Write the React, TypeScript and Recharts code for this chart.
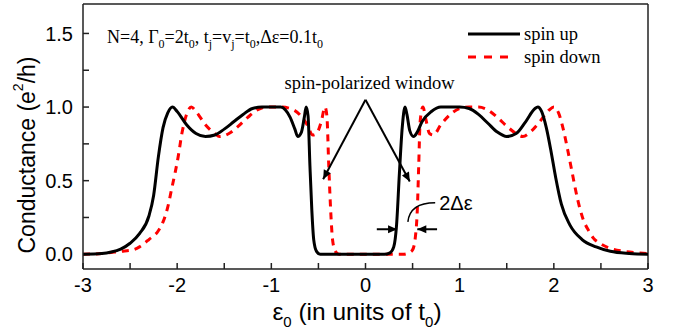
import React from 'react';
import { LineChart, Line, XAxis, YAxis, ReferenceLine } from 'recharts';

// spin up (black solid)
const spinUp = [
  { x: -3, y: 0 }, { x: -2.8, y: 0.005 }, { x: -2.7, y: 0.015 }, { x: -2.6, y: 0.035 },
  { x: -2.5, y: 0.075 }, { x: -2.4, y: 0.14 }, { x: -2.3, y: 0.26 }, { x: -2.25, y: 0.4 },
  { x: -2.2, y: 0.66 }, { x: -2.15, y: 0.86 }, { x: -2.1, y: 0.96 }, { x: -2.05, y: 1.0 },
  { x: -2.0, y: 0.97 }, { x: -1.9, y: 0.88 }, { x: -1.8, y: 0.82 }, { x: -1.7, y: 0.8 },
  { x: -1.6, y: 0.81 }, { x: -1.5, y: 0.85 }, { x: -1.4, y: 0.9 }, { x: -1.3, y: 0.95 },
  { x: -1.2, y: 0.99 }, { x: -1.1, y: 1.0 }, { x: -1.0, y: 1.0 }, { x: -0.9, y: 1.0 },
  { x: -0.85, y: 0.98 }, { x: -0.8, y: 0.93 }, { x: -0.75, y: 0.85 }, { x: -0.72, y: 0.8 },
  { x: -0.68, y: 0.83 }, { x: -0.65, y: 0.93 }, { x: -0.63, y: 1.0 }, { x: -0.61, y: 0.94 },
  { x: -0.59, y: 0.6 }, { x: -0.57, y: 0.3 }, { x: -0.55, y: 0.1 }, { x: -0.52, y: 0.02 },
  { x: -0.48, y: 0 }, { x: 0.2, y: 0 }, { x: 0.26, y: 0.01 }, { x: 0.3, y: 0.05 },
  { x: 0.33, y: 0.2 }, { x: 0.36, y: 0.55 }, { x: 0.39, y: 0.86 }, { x: 0.42, y: 1.0 },
  { x: 0.44, y: 0.95 }, { x: 0.47, y: 0.84 }, { x: 0.51, y: 0.8 }, { x: 0.55, y: 0.83 },
  { x: 0.6, y: 0.9 }, { x: 0.7, y: 0.97 }, { x: 0.8, y: 1.0 }, { x: 0.9, y: 1.0 },
  { x: 1.0, y: 1.0 }, { x: 1.1, y: 0.99 }, { x: 1.2, y: 0.95 }, { x: 1.3, y: 0.89 },
  { x: 1.4, y: 0.83 }, { x: 1.5, y: 0.8 }, { x: 1.6, y: 0.82 }, { x: 1.7, y: 0.9 },
  { x: 1.8, y: 0.99 }, { x: 1.83, y: 1.0 }, { x: 1.87, y: 0.97 }, { x: 1.92, y: 0.86 },
  { x: 1.97, y: 0.7 }, { x: 2.02, y: 0.52 }, { x: 2.08, y: 0.34 }, { x: 2.17, y: 0.2 },
  { x: 2.3, y: 0.1 }, { x: 2.45, y: 0.05 }, { x: 2.6, y: 0.02 }, { x: 2.8, y: 0.005 },
  { x: 3, y: 0 },
];

// spin down (red dashed)
const spinDown = [
  { x: -3, y: 0 }, { x: -2.8, y: 0.005 }, { x: -2.6, y: 0.02 }, { x: -2.47, y: 0.03 },
  { x: -2.4, y: 0.05 }, { x: -2.3, y: 0.1 }, { x: -2.2, y: 0.16 }, { x: -2.15, y: 0.22 },
  { x: -2.1, y: 0.32 }, { x: -2.06, y: 0.44 }, { x: -2.02, y: 0.56 }, { x: -1.99, y: 0.66 },
  { x: -1.95, y: 0.82 }, { x: -1.9, y: 0.95 }, { x: -1.85, y: 1.0 }, { x: -1.8, y: 0.97 },
  { x: -1.7, y: 0.88 }, { x: -1.6, y: 0.82 }, { x: -1.55, y: 0.8 }, { x: -1.45, y: 0.82 },
  { x: -1.35, y: 0.87 }, { x: -1.25, y: 0.93 }, { x: -1.15, y: 0.98 }, { x: -1.05, y: 1.0 },
  { x: -0.9, y: 1.0 }, { x: -0.8, y: 0.99 }, { x: -0.7, y: 0.95 }, { x: -0.62, y: 0.88 },
  { x: -0.56, y: 0.81 }, { x: -0.52, y: 0.82 }, { x: -0.47, y: 0.9 }, { x: -0.43, y: 1.0 },
  { x: -0.41, y: 0.94 }, { x: -0.39, y: 0.6 }, { x: -0.37, y: 0.3 }, { x: -0.35, y: 0.1 },
  { x: -0.32, y: 0.02 }, { x: -0.28, y: 0 }, { x: 0.4, y: 0 }, { x: 0.46, y: 0.01 },
  { x: 0.5, y: 0.03 }, { x: 0.53, y: 0.12 }, { x: 0.55, y: 0.3 }, { x: 0.565, y: 0.6 },
  { x: 0.58, y: 0.9 }, { x: 0.61, y: 1.0 }, { x: 0.64, y: 0.92 }, { x: 0.68, y: 0.82 },
  { x: 0.72, y: 0.81 }, { x: 0.8, y: 0.88 }, { x: 0.9, y: 0.95 }, { x: 1.0, y: 0.99 },
  { x: 1.1, y: 1.0 }, { x: 1.2, y: 1.0 }, { x: 1.3, y: 0.98 }, { x: 1.4, y: 0.93 },
  { x: 1.5, y: 0.87 }, { x: 1.6, y: 0.82 }, { x: 1.67, y: 0.8 }, { x: 1.75, y: 0.83 },
  { x: 1.85, y: 0.9 }, { x: 1.95, y: 0.98 }, { x: 2.0, y: 1.0 }, { x: 2.05, y: 0.96 },
  { x: 2.1, y: 0.85 }, { x: 2.15, y: 0.7 }, { x: 2.19, y: 0.57 }, { x: 2.25, y: 0.38 },
  { x: 2.31, y: 0.24 }, { x: 2.37, y: 0.16 }, { x: 2.42, y: 0.11 }, { x: 2.5, y: 0.07 },
  { x: 2.6, y: 0.04 }, { x: 2.75, y: 0.02 }, { x: 2.9, y: 0.01 }, { x: 3, y: 0.005 },
];

const xTicks = [-3, -2.5, -2, -1.5, -1, -0.5, 0, 0.5, 1, 1.5, 2, 2.5, 3];
const yTicks = [0, 0.25, 0.5, 0.75, 1, 1.25, 1.5];
const X_DOMAIN = [-3, 3];
const Y_DOMAIN = [-0.1, 1.7];

// annotation anchors (data units)
const apex = { x: 0, y: 1.05 };
const windowLeft = { x: -0.45, y: 0.51 };
const windowRight = { x: 0.47, y: 0.495 };
const gapArrowY = 0.17;

const serif = '"Liberation Serif", "Times New Roman", serif';
const sans = '"Liberation Sans", Arial, sans-serif';
const TICK = 6;

const arrowHead = (x1: number, y1: number, x2: number, y2: number, len = 9, half = 4) => {
  const a = Math.atan2(y2 - y1, x2 - x1);
  const bx = x2 - len * Math.cos(a);
  const by = y2 - len * Math.sin(a);
  const px = -Math.sin(a) * half;
  const py = Math.cos(a) * half;
  return `${x2},${y2} ${bx + px},${by + py} ${bx - px},${by - py}`;
};

const ArrowLine = (props: any) => {
  const { x1, y1, x2, y2, title } = props;
  if (x1 == null) return null;
  return (
    <g>
      <line x1={x1} y1={y1} x2={x2} y2={y2} stroke="#000" strokeWidth={2} />
      <polygon points={arrowHead(x1, y1, x2, y2)} fill="#000" />
      {title && (
        <text x={x1 + 4} y={y1 - 11} textAnchor="middle" fontFamily={serif} fontSize={18.5} fill="#000">
          {title}
        </text>
      )}
    </g>
  );
};

const CurvedArrow = (props: any) => {
  const { x1, y1, x2, y2 } = props;
  if (x1 == null) return null;
  return (
    <g>
      <path d={`M${x1},${y1} Q${x1 + 2},${y2} ${x2},${y2}`} fill="none" stroke="#000" strokeWidth={1.5} />
      <text x={x2 + 4} y={y2 + 7} fontFamily={sans} fontSize={20} fill="#000">2Δε</text>
    </g>
  );
};

// inward tick marks: segment runs from the axis (first point) into the plot
const XTickMark = (props: any) => {
  const { x1, y1 } = props;
  if (x1 == null) return null;
  return <line x1={x1} x2={x1} y1={y1} y2={y1 - TICK} stroke="#222" strokeWidth={1.5} />;
};
const YTickMark = (props: any) => {
  const { x1, y1 } = props;
  if (y1 == null) return null;
  return <line x1={x1} x2={x1 + TICK} y1={y1} y2={y1} stroke="#222" strokeWidth={1.5} />;
};

export default function App() {
  const axisStroke = { stroke: '#222', strokeWidth: 1.5 };
  return (
    <div style={{ position: 'absolute', left: 0, top: 0, width: 677, height: 334, background: '#fff' }}>
      <LineChart width={677} height={334} data={spinUp} margin={{ top: 4, right: 29, bottom: 0, left: 0 }}>
        <XAxis
          type="number"
          dataKey="x"
          domain={X_DOMAIN}
          ticks={xTicks}
          interval={0}
          allowDataOverflow
          height={65}
          tickSize={0}
          tickMargin={9}
          axisLine={axisStroke}
          tickLine={false}
          tick={{ fill: '#000', fontSize: 20, fontFamily: sans }}
          tickFormatter={(v: number) => (Number.isInteger(v) ? String(v) : '')}
        />
        <YAxis
          type="number"
          domain={Y_DOMAIN}
          ticks={yTicks}
          interval={0}
          allowDataOverflow
          width={83}
          tickSize={0}
          tickMargin={10}
          axisLine={axisStroke}
          tickLine={false}
          tick={{ fill: '#000', fontSize: 20, fontFamily: sans }}
          tickFormatter={(v: number) => (v * 2 === Math.round(v * 2) ? v.toFixed(1) : '')}
        />
        <ReferenceLine x={3} stroke="#222" strokeWidth={1.5} />
        <ReferenceLine y={1.7} stroke="#222" strokeWidth={1.5} />
        {xTicks.map((v) => (
          <ReferenceLine
            key={`xt${v}`}
            segment={[{ x: v, y: Y_DOMAIN[0] }, { x: v, y: Y_DOMAIN[1] }]}
            shape={(p: any) => <XTickMark {...p} />}
          />
        ))}
        {yTicks.map((v) => (
          <ReferenceLine
            key={`yt${v}`}
            segment={[{ x: X_DOMAIN[0], y: v }, { x: X_DOMAIN[1], y: v }]}
            shape={(p: any) => <YTickMark {...p} />}
          />
        ))}
        <Line data={spinDown} dataKey="y" type="monotone" stroke="#ff0000" strokeWidth={3} strokeDasharray="7 6" dot={false} isAnimationActive={false} />
        <Line data={spinUp} dataKey="y" type="monotone" stroke="#000" strokeWidth={3} dot={false} isAnimationActive={false} />
        <ReferenceLine
          segment={[apex, windowLeft]}
          shape={(p: any) => <ArrowLine {...p} title="spin-polarized window" />}
        />
        <ReferenceLine segment={[apex, windowRight]} shape={(p: any) => <ArrowLine {...p} />} />
        <ReferenceLine segment={[{ x: 0.12, y: gapArrowY }, { x: 0.335, y: gapArrowY }]} shape={(p: any) => <ArrowLine {...p} />} />
        <ReferenceLine segment={[{ x: 0.76, y: gapArrowY }, { x: 0.55, y: gapArrowY }]} shape={(p: any) => <ArrowLine {...p} />} />
        <ReferenceLine segment={[{ x: 0.45, y: 0.22 }, { x: 0.74, y: 0.35 }]} shape={(p: any) => <CurvedArrow {...p} />} />
      </LineChart>
      <svg width={677} height={334} style={{ position: 'absolute', left: 0, top: 0, pointerEvents: 'none' }}>
        <text x={107} y={43} fontFamily={serif} fontSize={18} fill="#000">
          N=4, Γ<tspan fontSize={12} dy={5}>0</tspan>
          <tspan dy={-5}>=2t</tspan><tspan fontSize={12} dy={5}>0</tspan>
          <tspan dy={-5}>, t</tspan><tspan fontSize={12} dy={5}>j</tspan>
          <tspan dy={-5}>=v</tspan><tspan fontSize={12} dy={5}>j</tspan>
          <tspan dy={-5}>=t</tspan><tspan fontSize={12} dy={5}>0</tspan>
          <tspan dy={-5}>,Δε=0.1t</tspan><tspan fontSize={12} dy={5}>0</tspan>
        </text>
        <line x1={468} y1={34} x2={520} y2={34} stroke="#000" strokeWidth={3} />
        <text x={524} y={40} fontFamily={serif} fontSize={18.5} fill="#000">spin up</text>
        <line x1={468} y1={57} x2={516} y2={57} stroke="#ff0000" strokeWidth={3} strokeDasharray="8 8" />
        <text x={524} y={63} fontFamily={serif} fontSize={18.5} fill="#000">spin down</text>
        <text
          transform="translate(27,155) rotate(-90)"
          textAnchor="middle"
          dominantBaseline="central"
          fontFamily={sans}
          fontSize={23}
          fill="#000"
        >
          Conductance (e<tspan fontSize={14} dy={-9}>2</tspan><tspan dy={9}>/h)</tspan>
        </text>
        <text x={357} y={320} textAnchor="middle" fontFamily={sans} fontSize={24.5} fill="#000">
          ε<tspan fontSize={15} dy={7}>0</tspan>
          <tspan dy={-7}> (in units of t</tspan><tspan fontSize={15} dy={7}>0</tspan>
          <tspan dy={-7}>)</tspan>
        </text>
      </svg>
    </div>
  );
}
